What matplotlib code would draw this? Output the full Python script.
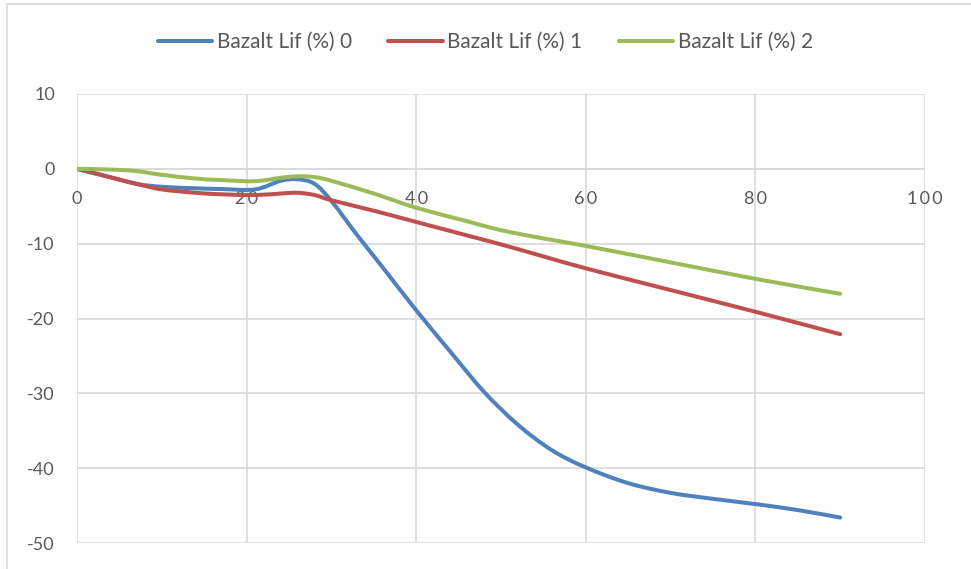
import numpy as np
import matplotlib
matplotlib.use("Agg")
import matplotlib.pyplot as plt
from matplotlib.path import Path
from matplotlib.patches import PathPatch, Rectangle
from matplotlib.lines import Line2D

plt.rcParams["font.family"] = ["Lato", "DejaVu Sans"]
plt.rcParams["axes.unicode_minus"] = False

# Ölçüm değerleri (x: süre, y: değişim %)
x_lif0 = [0, 3.5, 7, 10, 14, 17, 21, 24, 26, 28, 30, 33, 36, 40, 44, 48, 52, 56, 60, 65, 70, 75, 80, 85, 90]
y_lif0 = [0, -1.0, -2.0, -2.4, -2.6, -2.7, -2.75, -1.6, -1.4, -2.0, -4.3, -8.8, -13.1, -18.9,
          -24.4, -29.8, -34.2, -37.6, -39.9, -42.0, -43.3, -44.1, -44.8, -45.6, -46.6]

x_lif1 = [0, 3.5, 7, 10, 14, 17, 21, 24, 26, 28, 30, 35, 40, 46, 50, 55, 60, 70, 80, 90]
y_lif1 = [0, -1.0, -2.0, -2.75, -3.2, -3.4, -3.5, -3.3, -3.2, -3.5, -4.2, -5.6, -7.1, -8.9,
          -10.1, -11.7, -13.3, -16.2, -19.1, -22.1]

x_lif2 = [0, 4, 7, 10, 14, 17, 21, 24, 26, 28, 30, 35, 40, 46, 50, 55, 60, 70, 80, 90]
y_lif2 = [0, -0.1, -0.3, -0.8, -1.3, -1.5, -1.65, -1.2, -1.0, -1.1, -1.6, -3.3, -5.2, -7.0,
          -8.2, -9.3, -10.3, -12.5, -14.7, -16.7]

series_names = ["Bazalt Lif (%) 0", "Bazalt Lif (%) 1", "Bazalt Lif (%) 2"]
series_colors = ["#4F81BD", "#C0504D", "#9BBB59"]

x_ticks = [0, 20, 40, 60, 80, 100]
y_ticks = [10, 0, -10, -20, -30, -40, -50]


def smooth_path(xs, ys):
    # Catmull-Rom -> kübik Bezier (Excel "düzgün çizgi")
    pts = np.column_stack([xs, ys]).astype(float)
    pad = np.vstack([pts[0], pts, pts[-1]])
    verts = [pts[0]]
    codes = [Path.MOVETO]
    for i in range(1, len(pad) - 2):
        p0, p1, p2, p3 = pad[i - 1], pad[i], pad[i + 1], pad[i + 2]
        c1 = p1 + (p2 - p0) / 6.0
        c2 = p2 - (p3 - p1) / 6.0
        verts += [c1, c2, p2]
        codes += [Path.CURVE4] * 3
    return Path(verts, codes)


fig = plt.figure(figsize=(9.71, 5.69), dpi=100)
fig.patches.append(Rectangle((7 / 971, -0.1), 1.2, 1 - 4 / 569 + 0.1, transform=fig.transFigure,
                             facecolor="none", edgecolor="#D9D9D9", linewidth=1.2))

ax = fig.add_axes([77 / 971, 1 - 543 / 569, (925 - 77) / 971, (543 - 94) / 569])

grid_c = "#D9D9D9"
ax.set_xlim(0, 100)
ax.set_ylim(-50, 10)
ax.set_xticks(x_ticks)
ax.set_yticks(y_ticks)
ax.grid(True, color=grid_c, linewidth=1.2)
ax.set_axisbelow(True)
for s in ax.spines.values():
    s.set_visible(False)
ax.axhline(0, color=grid_c, linewidth=1.2, zorder=1)
ax.tick_params(length=0, labelsize=13, labelcolor="#595959")
ax.tick_params(axis="y", pad=16)
ax.set_xticklabels([])

# x etiketleri y=0 ekseninin altında, harf aralıklı
for xv in x_ticks:
    ax.text(xv, -3.0, "\u2009".join(str(xv)), ha="center", va="top", fontsize=13,
            color="#595959", clip_on=False)

all_series = [(x_lif0, y_lif0), (x_lif1, y_lif1), (x_lif2, y_lif2)]
handles = []
for (xs, ys), name, col in zip(all_series, series_names, series_colors):
    patch = PathPatch(smooth_path(xs, ys), facecolor="none", edgecolor=col, linewidth=2.9,
                      capstyle="round", joinstyle="round", zorder=3)
    ax.add_patch(patch)
    handles.append(Line2D([], [], color=col, linewidth=2.9, solid_capstyle="round", label=name))

leg = fig.legend(handles=handles, loc="center", bbox_to_anchor=(0.5, 1 - 42 / 569), ncol=3,
                 frameon=False, fontsize=15, handlelength=2.6, handletextpad=0.23,
                 columnspacing=1.75, labelcolor="#595959")

fig.savefig("out.png", dpi=100)
